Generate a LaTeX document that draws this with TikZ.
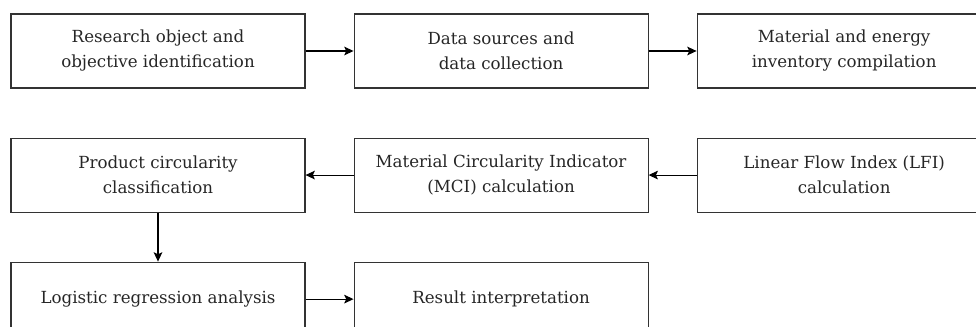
\documentclass[tikz,border=0pt]{standalone}
\usepackage{fontspec}
\setmainfont{DejaVu Serif}
\usetikzlibrary{positioning,arrows.meta}

\begin{document}
\begin{tikzpicture}[->,>={Stealth[length=7pt,width=6.5pt,inset=1.5pt]},thick,main node/.style={rectangle,draw=black!80,minimum width=220.5pt,minimum height=55.5pt,inner sep=0pt,align=center,text=black!85,font=\fontsize{12.5}{18.75}\selectfont}]
                        \useasboundingbox (0,0) rectangle (732pt,-245.25pt);

                        \node[main node] (1) at (118.5pt,-38.25pt) {Research object and\\objective identification};
                        \node[main node] (2) [right=36pt of 1] {Data sources and\\data collection};
                        \node[main node] (3) [right=36pt of 2] {Material and energy\\inventory compilation};

                        \node[main node] (4) [below=36.75pt of 3] {Linear Flow Index (LFI)\\calculation};
                        \node[main node] (5) [below=36.75pt of 2] {Material Circularity Indicator\\(MCI) calculation};
                        \node[main node] (6) [below=36.75pt of 1] {Product circularity\\classification};

                        \node[main node] (7) [below=36.75pt of 6] {Logistic regression analysis};
                        \node[main node] (8) [right=36pt of 7] {Result interpretation};

                        \path
                                (1) edge (2)
                                (2) edge (3)

                                (4) edge (5)
                                (5) edge (6)

                                (6) edge (7)
                                (7) edge (8)
                            ;
                    \end{tikzpicture}
\end{document}
